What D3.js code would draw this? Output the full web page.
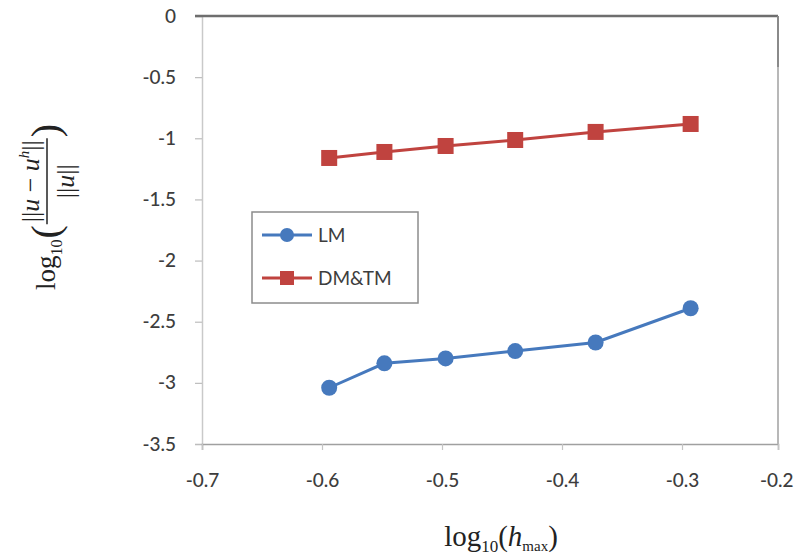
<!DOCTYPE html>
<html>
<head>
<meta charset="utf-8">
<script src="https://cdn.jsdelivr.net/npm/d3@7/dist/d3.min.js"></script>
<style>
  html, body { margin: 0; padding: 0; background: #ffffff; }
  svg { display: block; }
</style>
</head>
<body>
<svg id="chart" width="794" height="555"></svg>
<script>
// ---- data ----
const xValues = [-0.594, -0.548, -0.497, -0.439, -0.372, -0.291];
const lmValues = [-3.04, -2.84, -2.80, -2.74, -2.67, -2.39];
const dmtmValues = [-1.161, -1.112, -1.063, -1.014, -0.948, -0.883];
const seriesNames = ["LM", "DM&TM"];
const xTicks = [-0.7, -0.6, -0.5, -0.4, -0.3, -0.2];
const yTicks = [0, -0.5, -1, -1.5, -2, -2.5, -3, -3.5];

(function () {
const svg = d3.select("#chart");
const pLeft = 202, pRight = 778, pTop = 16, pBottom = 444;

const x = d3.scaleLinear().domain([-0.7, -0.3, -0.2]).range([pLeft, 682, pRight]);
const y = d3.scaleLinear().domain([-3.5, 0]).range([pBottom, pTop]);

const tickFont = "Lato, 'Open Sans', sans-serif";
const tickColor = "#3d3d3d";
const fmt = d => String(d);

// y axis
const yAxis = svg.append("g").attr("transform", `translate(${pLeft},0)`)
  .call(d3.axisLeft(y).tickValues(yTicks).tickSize(7).tickPadding(19).tickFormat(fmt));
yAxis.select(".domain").attr("stroke", "#c9c9c9").attr("stroke-width", 1.5);
yAxis.selectAll(".tick line").attr("stroke", "#bdbdbd").attr("stroke-width", 1.2);
yAxis.selectAll(".tick text").attr("font-family", tickFont).attr("font-size", 19)
  .attr("fill", tickColor).attr("font-weight", 500);

// x axis
const xAxis = svg.append("g").attr("transform", `translate(0,${pBottom})`)
  .call(d3.axisBottom(x).tickValues(xTicks).tickSize(6).tickPadding(24).tickFormat(fmt));
xAxis.select(".domain").attr("stroke", "#a0a0a0").attr("stroke-width", 1.5);
xAxis.selectAll(".tick line").attr("stroke", "#c4c4c4").attr("stroke-width", 1.2);
xAxis.selectAll(".tick text").attr("font-family", tickFont).attr("font-size", 19)
  .attr("fill", tickColor).attr("font-weight", 500);
// keep the last label inside the window
xAxis.selectAll(".tick text").filter(d => d === -0.2)
  .attr("text-anchor", "end").attr("x", 15);

// top and right plot borders
svg.append("line").attr("x1", pLeft - 7).attr("x2", pRight).attr("y1", pTop).attr("y2", pTop)
  .attr("stroke", "#6e6e6e").attr("stroke-width", 2.5);
svg.append("line").attr("x1", pRight).attr("x2", pRight).attr("y1", pTop).attr("y2", 67)
  .attr("stroke", "#8a8a8a").attr("stroke-width", 2);
svg.append("line").attr("x1", pRight).attr("x2", pRight).attr("y1", 67).attr("y2", pBottom)
  .attr("stroke", "#b8b8b8").attr("stroke-width", 2);

// series
const blue = "#4679bd", red = "#c0433f";
const lmData = xValues.map((v, i) => [v, lmValues[i]]);
const dmData = xValues.map((v, i) => [v, dmtmValues[i]]);
const line = d3.line().x(d => x(d[0])).y(d => y(d[1]));

svg.append("path").datum(dmData).attr("d", line).attr("fill", "none")
  .attr("stroke", red).attr("stroke-width", 3);
svg.selectAll(".sq").data(dmData).enter().append("rect")
  .attr("x", d => x(d[0]) - 8).attr("y", d => y(d[1]) - 8)
  .attr("width", 16).attr("height", 16).attr("fill", red);

svg.append("path").datum(lmData).attr("d", line).attr("fill", "none")
  .attr("stroke", blue).attr("stroke-width", 3);
svg.selectAll(".ci").data(lmData).enter().append("circle")
  .attr("cx", d => x(d[0])).attr("cy", d => y(d[1])).attr("r", 8).attr("fill", blue);

// legend
const lg = svg.append("g");
lg.append("rect").attr("x", 252).attr("y", 212).attr("width", 166).attr("height", 91)
  .attr("fill", "#fff").attr("stroke", "#8c8c8c").attr("stroke-width", 1.5);
const legendRows = [
  { name: seriesNames[0], color: blue, shape: "circle", yy: 235 },
  { name: seriesNames[1], color: red, shape: "square", yy: 278 }
];
legendRows.forEach(r => {
  lg.append("line").attr("x1", 262).attr("x2", 312).attr("y1", r.yy).attr("y2", r.yy)
    .attr("stroke", r.color).attr("stroke-width", 3);
  if (r.shape === "circle") {
    lg.append("circle").attr("cx", 287).attr("cy", r.yy).attr("r", 7).attr("fill", r.color);
  } else {
    lg.append("rect").attr("x", 280).attr("y", r.yy - 7).attr("width", 14).attr("height", 14).attr("fill", r.color);
  }
  lg.append("text").attr("x", 318).attr("y", r.yy).attr("dy", "0.35em")
    .attr("font-family", tickFont).attr("font-size", 19).attr("fill", tickColor)
    .text(r.name);
});

// x axis title: log10(h_max)
const serif = "'Liberation Serif', 'Times New Roman', serif";
const xt = svg.append("text").attr("x", 501).attr("y", 546).attr("text-anchor", "middle")
  .attr("font-family", serif).attr("font-size", 29).attr("fill", "#222");
xt.append("tspan").text("log");
xt.append("tspan").attr("font-size", 17).attr("dy", 6).text("10");
xt.append("tspan").attr("dy", -6).text("(");
xt.append("tspan").attr("font-style", "italic").text("h");
xt.append("tspan").attr("font-size", 15).attr("dy", 5).text("max");
xt.append("tspan").attr("dy", -5).text(")");

// y axis title: log10( ||u - u^h|| / ||u|| )
const yg = svg.append("g").attr("font-family", serif).attr("fill", "#222");
let cx = 0;
const t1 = yg.append("text").attr("x", cx).attr("y", 8).attr("font-size", 27).text("log");
cx += t1.node().getComputedTextLength();
const t2 = yg.append("text").attr("x", cx).attr("y", 15).attr("font-size", 16).text("10");
cx += t2.node().getComputedTextLength() + 1;
const t3 = yg.append("text").attr("x", cx).attr("y", 12).attr("font-size", 40).text("(");
cx += t3.node().getComputedTextLength() + 1;
const num = yg.append("text").attr("y", -8).attr("font-size", 26).attr("text-anchor", "middle");
num.append("tspan").text("||");
num.append("tspan").attr("font-style", "italic").text("u");
num.append("tspan").text(" \u2212 ");
num.append("tspan").attr("font-style", "italic").text("u");
num.append("tspan").attr("font-style", "italic").attr("font-size", 15).attr("dy", -10).text("h");
num.append("tspan").attr("dy", 10).text("||");
const den = yg.append("text").attr("y", 27).attr("font-size", 26).attr("text-anchor", "middle");
den.append("tspan").text("||");
den.append("tspan").attr("font-style", "italic").text("u");
den.append("tspan").text("||");
const fw = Math.max(num.node().getComputedTextLength(), den.node().getComputedTextLength()) + 4;
num.attr("x", cx + fw / 2);
den.attr("x", cx + fw / 2);
yg.append("line").attr("x1", cx).attr("x2", cx + fw).attr("y1", 0).attr("y2", 0)
  .attr("stroke", "#222").attr("stroke-width", 1.5);
cx += fw + 1;
const t4 = yg.append("text").attr("x", cx).attr("y", 12).attr("font-size", 40).text(")");
cx += t4.node().getComputedTextLength();
const total = cx;
yg.attr("transform", `translate(47, ${207 + total / 2}) rotate(-90)`);
})();
</script>
</body>
</html>
